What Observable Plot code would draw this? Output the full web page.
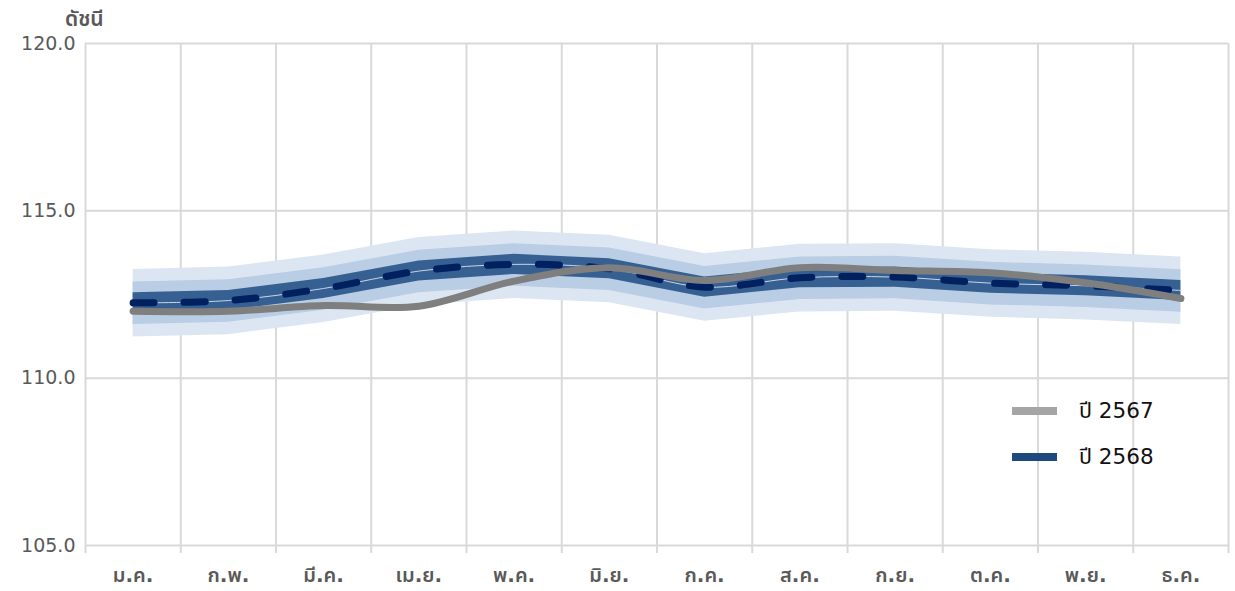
<!DOCTYPE html>
<html><head><meta charset="utf-8">
<script src="https://cdn.jsdelivr.net/npm/d3@7"></script>
<script src="https://cdn.jsdelivr.net/npm/@observablehq/plot@0.6"></script>
<style>
body{margin:0;background:#fff;font-family:"DejaVu Sans",Tahoma,"Noto Sans Thai","Noto Sans",sans-serif;}
#wrap{position:relative;width:1235px;height:591px;overflow:hidden;}
#wrap svg{position:absolute;left:0;top:0;overflow:visible;}
.ytitle{position:absolute;left:65px;top:4px;font-size:21px;color:#595959;font-weight:600;}
.leg{position:absolute;left:1012px;display:flex;align-items:center;font-size:21.5px;color:#111;}
.leg .sw{width:45px;height:8px;margin-right:22px;}
</style></head><body><div id="wrap"></div>
<script>
const months = ["ม.ค.","ก.พ.","มี.ค.","เม.ย.","พ.ค.","มิ.ย.","ก.ค.","ส.ค.","ก.ย.","ต.ค.","พ.ย.","ธ.ค."];
const center2568 = [112.25,112.32,112.68,113.20,113.40,113.27,112.72,113.00,113.02,112.84,112.76,112.62];
const actual2567 = [112.00,112.00,112.17,112.15,112.90,113.30,112.92,113.30,113.22,113.15,112.85,112.38];
const outerHi = [113.25,113.32,113.68,114.20,114.40,114.27,113.72,114.00,114.02,113.84,113.76,113.62];
const outerLo = [111.23,111.30,111.66,112.18,112.38,112.25,111.70,111.98,112.00,111.82,111.74,111.60];
const midHi   = [112.87,112.94,113.30,113.82,114.02,113.89,113.34,113.62,113.64,113.46,113.38,113.24];
const midLo   = [111.60,111.67,112.03,112.55,112.75,112.62,112.07,112.35,112.37,112.19,112.11,111.97];
const innerHi = [112.55,112.62,112.98,113.50,113.70,113.57,113.02,113.30,113.32,113.14,113.06,112.92];
const innerLo = [111.95,112.02,112.38,112.90,113.10,112.97,112.42,112.70,112.72,112.54,112.46,112.32];
const yTicks = [105,110,115,120];
const seriesNames = ["ปี 2567","ปี 2568"];
const yTitle = "ดัชนี";

const rows = months.map((m,i)=>({i, m, c:center2568[i], a:actual2567[i],
  oh:outerHi[i], ol:outerLo[i], mh:midHi[i], ml:midLo[i], ih:innerHi[i], il:innerLo[i]}));
const boundaries = d3.range(months.length+1).map(k=>k-0.5);
const fam = '"DejaVu Sans",Tahoma,"Noto Sans Thai","Noto Sans",sans-serif';

const chart = Plot.plot({
  width:1235, height:591,
  marginTop:43, marginBottom:46, marginLeft:85, marginRight:7,
  style:{fontFamily:fam, fontSize:"20px", color:"#595959", background:"#fff", overflow:"visible"},
  x:{type:"linear", domain:[-0.5, months.length-0.5]},
  y:{domain:[105,120]},
  marks:[
    Plot.ruleY(yTicks, {stroke:"#d9d9d9", strokeWidth:2}),
    Plot.ruleX(boundaries, {stroke:"#d9d9d9", strokeWidth:2, insetBottom:-8}),
    Plot.areaY(rows, {x:"i", y1:"ol", y2:"oh", fill:"#dce6f2"}),
    Plot.areaY(rows, {x:"i", y1:"ml", y2:"mh", fill:"#b9cde5"}),
    Plot.areaY(rows, {x:"i", y1:"il", y2:"ih", fill:"#376092"}),
    Plot.line(rows, {x:"i", y:"c", stroke:"#c6d4e8", strokeWidth:1, curve:"catmull-rom"}),
    Plot.line(rows, {x:"i", y:"c", stroke:"#002060", strokeWidth:7, strokeDasharray:"21,30", strokeLinecap:"round", curve:"catmull-rom"}),
    Plot.line(rows, {x:"i", y:"a", stroke:"#7f7f7f", strokeWidth:7, strokeLinecap:"round", curve:"catmull-rom"}),
    Plot.axisY(yTicks, {tickSize:0, tickPadding:10, tickFormat:d=>d.toFixed(1), label:null, fill:"#595959", fontSize:19}),
    Plot.axisX(d3.range(months.length), {tickSize:0, tickPadding:22, tickFormat:i=>months[i], label:null, fill:"#595959", fontWeight:600, fontSize:20})
  ]
});
const wrap = document.getElementById("wrap");
wrap.appendChild(chart);
const t = document.createElement("div"); t.className="ytitle"; t.textContent=yTitle; wrap.appendChild(t);
const legColors = ["#a5a5a5","#1f497d"];
const legTops = [396,442];
seriesNames.forEach((n,k)=>{
  const d=document.createElement("div"); d.className="leg"; d.style.top=legTops[k]+"px"; d.style.height="30px";
  d.innerHTML=`<div class="sw" style="background:${legColors[k]}"></div><span>${n}</span>`;
  wrap.appendChild(d);
});
</script></body></html>
